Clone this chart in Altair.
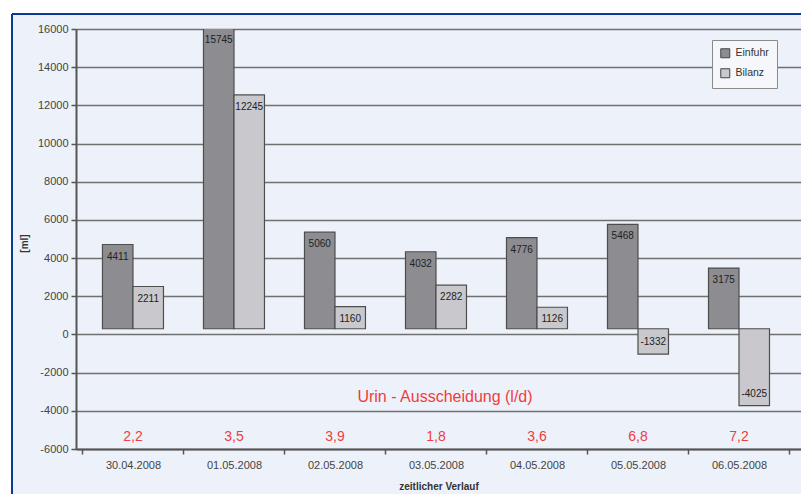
import altair as alt
import pandas as pd

dates = ["30.04.2008", "01.05.2008", "02.05.2008", "03.05.2008",
         "04.05.2008", "05.05.2008", "06.05.2008"]
einfuhr = [4411, 15745, 5060, 4032, 4776, 5468, 3175]
bilanz = [2211, 12245, 1160, 2282, 1126, -1332, -4025]
urin = ["2,2", "3,5", "3,9", "1,8", "3,6", "6,8", "7,2"]
series = ["Einfuhr", "Bilanz"]
y_ticks = list(range(-6000, 16001, 2000))
BASE = 300  # bars in the original start slightly above zero

rows = []
for d, e, b in zip(dates, einfuhr, bilanz):
    rows.append({"Datum": d, "Serie": "Einfuhr", "Wert": e})
    rows.append({"Datum": d, "Serie": "Bilanz", "Wert": b})
df = pd.DataFrame(rows)
df_urin = pd.DataFrame({"Datum": dates, "Urin": urin})
one = pd.DataFrame({"a": [0]})

BG = "#edf1f9"
RED = "#ee3e3e"
W, H = 725, 420

x_enc = alt.X("Datum:N", sort=dates,
              scale=alt.Scale(paddingInner=0, paddingOuter=0.089, align=0.36),
              axis=alt.Axis(title="zeitlicher Verlauf", tickBand="extent",
                            labelAngle=0, labelFontSize=11, labelColor="#444",
                            labelPadding=5, tickSize=5, tickWidth=1.5,
                            tickColor="#555", domainColor="#555", domainWidth=2,
                            grid=False, titleFontSize=10, titleFontWeight="bold",
                            titleColor="#333", titleY=37, titleBaseline="middle"))
xo_enc = alt.XOffset("Serie:N", sort=series,
                     scale=alt.Scale(paddingInner=0, paddingOuter=0.656))
y_enc = alt.Y("top:Q",
              scale=alt.Scale(domain=[-6000, 16000], nice=False, zero=False),
              axis=alt.Axis(values=y_ticks, title="[ml]", grid=True,
                            labelOverlap=False, labelExpr="'' + datum.value",
                            gridColor="#707070", gridWidth=1.5,
                            labelFontSize=11, labelColor="#444", labelPadding=3,
                            tickSize=5, tickWidth=1.5, tickColor="#555",
                            domainColor="#555", domainWidth=2,
                            titleFontSize=10, titleFontWeight="bold",
                            titleColor="#333", titleAngle=-90,
                            titleX=-52, titleY=214, titleAlign="center",
                            titleBaseline="middle"))

base = alt.Chart(df).transform_calculate(
    top=f"datum.Wert + {BASE}", lbl="'' + datum.Wert")

bars = base.mark_bar(clip=True, stroke="#4d4d4d", strokeWidth=1.2).encode(
    x=x_enc,
    xOffset=xo_enc,
    y=y_enc,
    y2=alt.datum(BASE),
    color=alt.Color("Serie:N", sort=series,
                    scale=alt.Scale(domain=series, range=["#8c8c91", "#c9c9cd"]),
                    legend=alt.Legend(title=None, orient="none", legendX=636,
                                      legendY=11, fillColor="#f5f7fb",
                                      strokeColor="#8a8a8a", padding=8,
                                      symbolType="square", symbolSize=81,
                                      symbolStrokeColor="#444",
                                      symbolStrokeWidth=1, labelFontSize=10.5,
                                      labelColor="#333", rowPadding=6,
                                      labelOffset=5)),
)

lab_pos = base.transform_filter("datum.Wert >= 0").mark_text(
    fontSize=10, color="#222", dy=12, baseline="middle").encode(
    x=x_enc, xOffset=xo_enc, y=y_enc, text="lbl:N")
lab_neg = base.transform_filter("datum.Wert < 0").mark_text(
    fontSize=10, color="#222", dy=-12, baseline="middle").encode(
    x=x_enc, xOffset=xo_enc, y=y_enc, text="lbl:N")

urin_txt = alt.Chart(df_urin).mark_text(fontSize=14, color=RED,
                                        baseline="middle").encode(
    x=x_enc, y=alt.value(408), text="Urin:N")

urin_title = alt.Chart(one).mark_text(fontSize=16, color=RED,
                                      baseline="middle").encode(
    x=alt.value(369), y=alt.value(368),
    text=alt.value("Urin - Ausscheidung (l/d)"))

strip_top = alt.Chart(one).mark_rect(color="white").encode(
    x=alt.value(-76), x2=alt.value(W), y=alt.value(-29), y2=alt.value(-15))
strip_left = alt.Chart(one).mark_rect(color="white").encode(
    x=alt.value(-76), x2=alt.value(-64), y=alt.value(-29), y2=alt.value(H + 45))
line_top = alt.Chart(one).mark_rule(color="#0b3a94", strokeWidth=2).encode(
    x=alt.value(-64), x2=alt.value(W), y=alt.value(-15))
line_left = alt.Chart(one).mark_rule(color="#0b3a94", strokeWidth=2).encode(
    x=alt.value(-64), y=alt.value(-15), y2=alt.value(H + 45))

chart = alt.layer(
    bars, lab_pos, lab_neg, urin_txt, urin_title,
    strip_top, strip_left, line_top, line_left
).properties(
    width=W, height=H,
    padding={"left": 76, "top": 29, "right": 0, "bottom": 45},
    autosize=alt.AutoSizeParams(type="none"),
    background=BG,
).configure_view(stroke=None).configure(font="Liberation Sans")

chart.save("out.html", embed_options={"renderer": "svg", "actions": False})
